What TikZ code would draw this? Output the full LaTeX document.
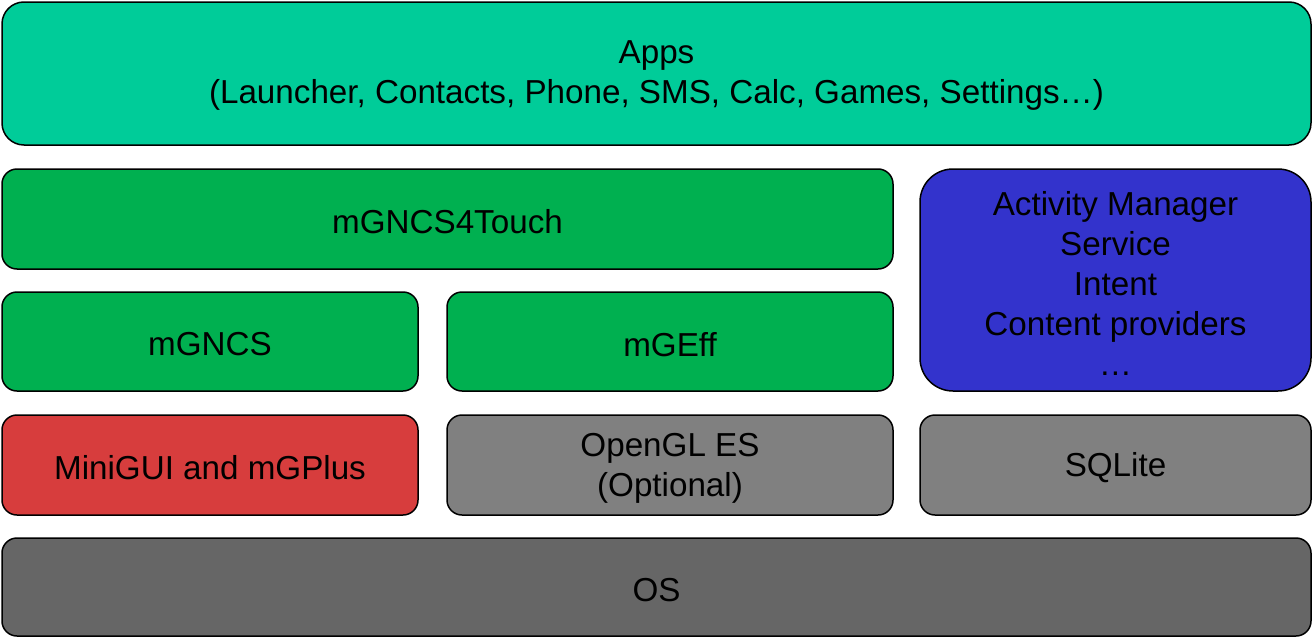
\documentclass[tikz,border=0pt]{standalone}
\usepackage{fontspec}
\setmainfont{Liberation Sans}
\definecolor{appsc}{HTML}{00CC99}
\definecolor{greenc}{HTML}{00B050}
\definecolor{bluec}{HTML}{3333CC}
\definecolor{redc}{HTML}{D73D3D}
\definecolor{grayc}{HTML}{808080}
\definecolor{darkc}{HTML}{666666}
\begin{document}
\begin{tikzpicture}[x=1pt,y=-1pt,
  box/.style={draw=black,line width=1.5pt,rounded corners=15pt,inner sep=0pt,outer sep=0pt},
  txt/.style={align=center,inner sep=0pt,font=\fontsize{33.2}{40}\selectfont,text=black}]
\useasboundingbox (0,0) rectangle (1312,637);
\node[box,fill=appsc,rounded corners=22pt,minimum width=1309pt,minimum height=143pt] (apps) at (656.5,73.5) {};
\node[txt] (appst) at ([yshift=-2pt]apps.center) {Apps\\(Launcher, Contacts, Phone, SMS, Calc, Games, Settings…)};
\node[box,fill=greenc,minimum width=891pt,minimum height=100pt] (touch) at (447.5,219) {};
\node[txt] (toucht) at ([yshift=-3pt]touch.center) {mGNCS4Touch};
\node[box,fill=bluec,rounded corners=33pt,minimum width=391pt,minimum height=222pt] (am) at (1115.5,280) {};
\node[txt] (amt) at ([yshift=-3pt]am.center) {Activity Manager\\Service\\Intent\\Content providers\\…};
\node[box,fill=greenc,minimum width=416pt,minimum height=99pt] (mgncs) at (210,341.5) {};
\node[txt] (mgncst) at ([yshift=-3pt]mgncs.center) {mGNCS};
\node[box,fill=greenc,minimum width=446pt,minimum height=99pt] (mgeff) at (670,341.5) {};
\node[txt] (mgefft) at ([yshift=-3pt]mgeff.center) {mGEff};
\node[box,fill=redc,minimum width=416pt,minimum height=100pt] (minigui) at (210,465) {};
\node[txt] (miniguit) at ([yshift=-3pt]minigui.center) {MiniGUI and mGPlus};
\node[box,fill=grayc,minimum width=446pt,minimum height=100pt] (gl) at (670,465) {};
\node[txt] (glt) at ([yshift=-3pt]gl.center) {OpenGL ES\\(Optional)};
\node[box,fill=grayc,minimum width=391pt,minimum height=100pt] (sql) at (1115.5,465) {};
\node[txt] (sqlt) at ([yshift=-3pt]sql.center) {SQLite};
\node[box,fill=darkc,minimum width=1309pt,minimum height=98pt] (os) at (656.5,587) {};
\node[txt] (ost) at ([yshift=-3pt]os.center) {OS};
\end{tikzpicture}
\end{document}
